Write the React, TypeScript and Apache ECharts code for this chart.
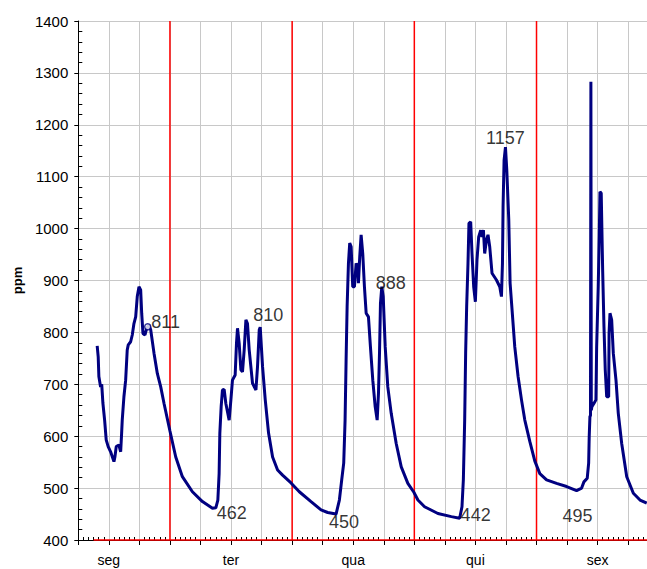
import React, { useEffect, useRef } from "react";
import * as echarts from "echarts";

// ---- data ----
const dayNames = ["seg", "ter", "qua", "qui", "sex"];

// hours since Monday 00:00
const hours = [
  9.71, 9.91, 10.04, 10.38, 10.6, 10.83, 11.17, 11.48, 11.87, 12.35, 13.0, 13.19, 13.45, 13.98, 14.32, 14.51,
  14.63, 14.96, 15.3, 15.61, 15.81, 16.28, 16.6, 16.93, 17.27, 17.58, 17.92, 18.25, 18.45, 18.7, 19.1, 19.35,
  19.63, 19.89, 20.22, 20.87, 21.52, 22.19, 22.84, 24.0, 25.14, 26.44, 28.41, 30.38, 32.35, 33.01, 33.41,
  33.66, 33.8, 34.06, 34.31, 34.65, 34.98, 35.63, 35.97, 36.28, 36.81, 37.07, 37.27, 37.6, 37.93, 38.25,
  38.58, 38.92, 39.23, 39.57, 40.22, 40.89, 41.2, 41.54, 41.73, 42.19, 42.72, 43.37, 44.16, 45.14, 46.12,
  47.78, 49.41, 51.71, 53.68, 54.98, 56.63, 57.28, 57.74, 58.13, 58.4, 58.6, 58.8, 59.06, 59.31, 59.59,
  59.9, 60.24, 60.57, 60.89, 61.02, 61.28, 61.55, 61.87, 62.2, 62.54, 62.99, 63.38, 63.84, 64.31, 64.7,
  64.96, 65.16, 65.35, 65.61, 65.89, 66.28, 66.79, 67.46, 68.44, 69.43, 70.73, 71.91, 72.7, 74.01, 76.63,
  79.27, 80.9, 81.36, 81.63, 81.89, 82.08, 82.28, 82.54, 82.73, 83.07, 83.33, 83.66, 83.99, 84.31, 84.64,
  85.04, 85.29, 85.57, 85.82, 86.16, 86.47, 86.81, 87.26, 88.13, 88.78, 89.11, 89.31, 89.43, 89.63, 89.9,
  90.16, 90.55, 90.81, 91.2, 91.73, 92.38, 93.05, 93.7, 94.68, 95.67, 96.65, 97.97, 99.94, 101.91, 103.87,
  104.86, 105.31, 105.96, 106.24, 106.35, 106.49, 106.6, 106.68, 106.76, 106.88, 107.27, 107.67, 107.81,
  108.12, 108.32, 108.46, 108.71, 108.99, 109.25, 109.5, 109.78, 110.17, 110.25, 110.43, 110.76, 111.08,
  111.61, 112.06, 112.73, 113.72, 115.02, 116.33, 117.65,
];

const ppm = [
  774, 753, 715, 695, 700, 664, 631, 593, 580, 570, 551, 560, 580, 583, 570, 606,
  631, 676, 708, 766, 776, 782, 795, 817, 830, 869, 888, 882, 837, 798, 795, 805,
  811, 814, 805, 760, 721, 695, 663, 610, 560, 522, 493, 474, 461, 462, 477,
  528, 606, 657, 689, 690, 663, 631, 670, 708, 718, 779, 808, 779, 728, 724,
  766, 824, 817, 766, 702, 689, 734, 805, 810, 734, 670, 606, 560, 535, 525,
  510, 493, 474, 458, 453, 450, 477, 516, 548, 631, 747, 850, 933, 972, 965,
  888, 888, 933, 927, 895, 946, 988, 952, 888, 837, 830, 772, 708, 657, 631,
  683, 760, 856, 888, 869, 772, 695, 644, 586, 541, 509, 492, 477, 464, 451,
  445, 442, 464, 516, 631, 760, 850, 933, 1010, 1013, 952, 888, 859, 940, 984,
  997, 984, 997, 952, 978, 988, 965, 914, 901, 888, 869, 933, 1042, 1132, 1157,
  1113, 1017, 895, 843, 772, 715, 670, 631, 590, 552, 528, 516, 509, 503, 495,
  500, 512, 519, 548, 599, 638, 640, 1283, 650, 657, 663, 670, 772,
  888, 984, 1071, 1068, 920, 811, 728, 676, 676, 798, 837, 824, 760,
  708, 644, 586, 522, 490, 477, 471,
];

const midnights = [24, 48, 72, 96];
const markerStartHour = 9;
const axisMinHour = 6;
const axisMaxHour = 117.7;

const annotHours = [19.63, 41.73, 33.01, 56.63, 65.61, 80.9, 89.9, 103.87];
const annotValues = [811, 810, 462, 450, 888, 442, 1157, 495];
const annotOffsets = [
  [18, -5], [8, -12], [16, 5], [8, 8], [9, -4], [16, -3], [0, -9], [1, 25],
];

const FONT = "'Liberation Sans', Arial, sans-serif";

export default function App() {
  const ref = useRef<HTMLDivElement>(null);

  useEffect(() => {
    if (!ref.current) return;
    const chart = echarts.init(ref.current, null, { renderer: "svg" });

    const co2 = hours.map((h, i) => [h, ppm[i]]);

    const marker: number[][] = [[markerStartHour, 400]];
    midnights.forEach((m) => {
      marker.push([m, 400], [m, 1400], [m, 400]);
    });
    marker.push([axisMaxHour, 400]);

    const annot = annotHours.map((h, i) => ({
      value: [h, annotValues[i]],
      symbol: "circle",
      symbolSize: i === 0 ? 6 : 1,
      itemStyle:
        i === 0
          ? { color: "#ffffff", borderColor: "#000080", borderWidth: 1.5 }
          : { color: "rgba(0,0,0,0)", borderWidth: 0 },
      label: {
        show: true,
        position: "inside",
        offset: annotOffsets[i],
        fontFamily: FONT,
        fontSize: 18,
        color: "#000",
        textBorderWidth: 0,
      },
    }));

    chart.setOption({
      animation: false,
      backgroundColor: "#ffffff",
      textStyle: { fontFamily: FONT },
      grid: { left: 78.3, right: 0, top: 21, bottom: 29, containLabel: false },
      xAxis: {
        type: "value",
        min: axisMinHour,
        max: axisMaxHour,
        interval: 6,
        z: 1,
        axisLine: { show: true, onZero: false, lineStyle: { color: "#000", width: 1 } },
        axisTick: { show: true, length: 5, lineStyle: { color: "#000" } },
        minorTick: { show: true, splitNumber: 6, length: -3, lineStyle: { color: "#000" } },
        splitLine: { show: true, lineStyle: { color: "#c8c8c8", width: 1 } },
        axisLabel: {
          margin: 13,
          color: "#000",
          fontFamily: FONT,
          fontSize: 14,
          showMaxLabel: false,
          formatter: (v: number) => {
            const k = (v - 12) / 24;
            return Number.isInteger(k) && k >= 0 && k < dayNames.length ? dayNames[k] : "";
          },
        },
      },
      yAxis: {
        type: "value",
        min: 400,
        max: 1400,
        interval: 100,
        z: 1,
        name: "ppm",
        nameLocation: "middle",
        nameRotate: 90,
        nameGap: 54,
        nameTextStyle: { fontFamily: FONT, fontSize: 13, fontWeight: "bold", color: "#000" },
        axisLine: { show: true, lineStyle: { color: "#000", width: 1 } },
        axisTick: { show: true, length: 4, lineStyle: { color: "#000" } },
        minorTick: { show: true, splitNumber: 5, length: -4, lineStyle: { color: "#000" } },
        splitLine: { show: true, lineStyle: { color: "#c8c8c8", width: 1 } },
        axisLabel: {
          margin: 10,
          color: "#000",
          fontFamily: FONT,
          fontSize: 15,
          formatter: (v: number) => String(v),
        },
      },
      series: [
        {
          type: "line",
          data: marker,
          symbol: "none",
          lineStyle: { color: "#ff0000", width: 1.5 },
          clip: false,
          z: 5,
        },
        {
          type: "line",
          data: co2,
          symbol: "none",
          lineStyle: { color: "#000080", width: 3 },
          z: 6,
        },
        {
          type: "scatter",
          data: annot,
          z: 7,
          label: {
            show: true,
            position: "inside",
            fontFamily: FONT,
            fontSize: 18,
            color: "#000",
            textBorderWidth: 0,
            formatter: (p: any) => String(p.value[1]),
          },
        },
      ],
    });

    return () => chart.dispose();
  }, []);

  return (
    <div
      ref={ref}
      style={{ position: "absolute", left: 0, top: 0, width: 647, height: 569 }}
    />
  );
}
